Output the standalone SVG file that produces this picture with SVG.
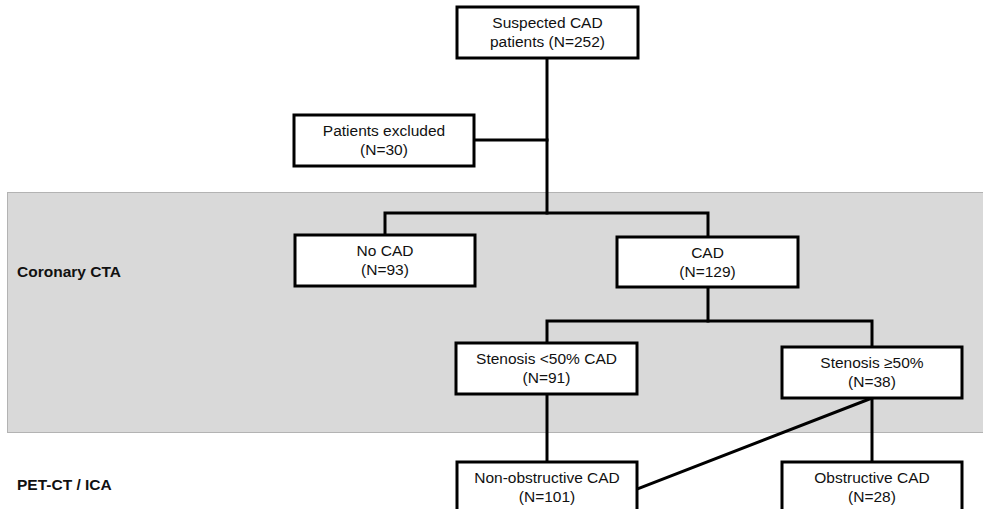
<svg xmlns="http://www.w3.org/2000/svg" width="983" height="509" viewBox="0 0 983 509">
<style>
.box{fill:#fff;stroke:#000;stroke-width:3}
.t{font-family:"Liberation Sans",Arial,sans-serif;font-size:15.5px;fill:#111;text-anchor:middle}
.lbl{font-family:"Liberation Sans",Arial,sans-serif;font-size:15.5px;font-weight:bold;fill:#111}
.c{fill:none;stroke:#000;stroke-width:3;stroke-linecap:square}
</style>
<rect x="0" y="0" width="983" height="509" fill="#fff"/>
<rect id="band" x="7.5" y="192.5" width="980" height="240" fill="#d9d9d9" stroke="#b3b3b3" stroke-width="1"/>
<text class="lbl" x="17" y="277">Coronary CTA</text>
<text class="lbl" x="17" y="490">PET-CT / ICA</text>
<g id="connectors">
<path class="c" d="M547 58V213"/>
<path class="c" d="M474 140H547"/>
<path class="c" d="M385 235V213H708V237"/>
<path class="c" d="M708 287V321"/>
<path class="c" d="M547 343V321H872V347"/>
<path class="c" d="M547 394V462"/>
<path class="c" d="M872 398V462"/>
<path class="c" d="M872 398L637 489"/>
</g>
<g id="suspected">
<rect class="box" x="457" y="7" width="181" height="51"/>
<text class="t" x="547.5" y="28">Suspected CAD</text>
<text class="t" x="547.5" y="47">patients (N=252)</text>
</g>
<g id="excluded">
<rect class="box" x="294" y="115" width="180" height="51"/>
<text class="t" x="384" y="136">Patients excluded</text>
<text class="t" x="384" y="155">(N=30)</text>
</g>
<g id="nocad">
<rect class="box" x="295" y="235" width="180" height="51"/>
<text class="t" x="385" y="256">No CAD</text>
<text class="t" x="385" y="275">(N=93)</text>
</g>
<g id="cad">
<rect class="box" x="617" y="237" width="181" height="50"/>
<text class="t" x="707.5" y="258">CAD</text>
<text class="t" x="707.5" y="277">(N=129)</text>
</g>
<g id="stenosis-lt50">
<rect class="box" x="456" y="343" width="181" height="51"/>
<text class="t" x="546.5" y="364">Stenosis &lt;50% CAD</text>
<text class="t" x="546.5" y="383">(N=91)</text>
</g>
<g id="stenosis-ge50">
<rect class="box" x="782" y="347" width="180" height="51"/>
<text class="t" x="872" y="368">Stenosis ≥50%</text>
<text class="t" x="872" y="387">(N=38)</text>
</g>
<g id="nonobstructive">
<rect class="box" x="457" y="462" width="180" height="60"/>
<text class="t" x="547" y="483">Non-obstructive CAD</text>
<text class="t" x="547" y="502">(N=101)</text>
</g>
<g id="obstructive">
<rect class="box" x="782" y="462" width="180" height="60"/>
<text class="t" x="872" y="483">Obstructive CAD</text>
<text class="t" x="872" y="502">(N=28)</text>
</g>
</svg>
